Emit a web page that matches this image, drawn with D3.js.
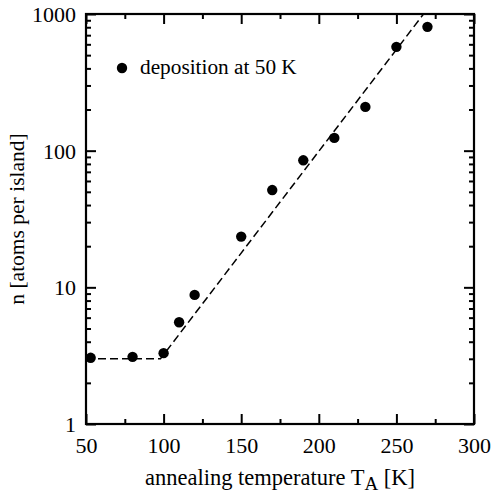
<!DOCTYPE html>
<html>
<head>
<meta charset="utf-8">
<script src="https://cdn.jsdelivr.net/npm/d3@7/dist/d3.min.js"></script>
<style>
  html, body { margin: 0; padding: 0; background: #fff; }
  svg text { font-family: "Liberation Serif", "Times New Roman", Times, "DejaVu Serif", serif !important; }
</style>
</head>
<body>
<svg id="chart" width="492" height="493"></svg>
<script>
// Island size after annealing, deposition at 50 K
const annealT = [53, 80, 100, 110, 120, 150, 170, 190, 210, 230, 250, 270];
const atomsPerIsland = [3.05, 3.1, 3.3, 5.55, 8.8, 23.5, 51.5, 85, 124, 209, 575, 805];

// Guide line: plateau, then exponential growth
const fitT = [50, 98, 267.5];
const fitN = [3, 3, 1000];

const xMajorTicks = [50, 100, 150, 200, 250, 300];
const xMinorTicks = [75, 125, 175, 225, 275];
const yMajorTicks = [1, 10, 100, 1000];
const yMinorTicks = [2, 3, 4, 5, 6, 7, 8, 9, 20, 30, 40, 50, 60, 70, 80, 90, 200, 300, 400, 500, 600, 700, 800, 900];

const legendLabel = "deposition at 50 K";

const W = 492, H = 493;
const margin = { top: 14, right: 18, bottom: 69, left: 86 };
const x0 = margin.left, x1 = W - margin.right;
const y0 = H - margin.bottom, y1 = margin.top;

const svg = d3.select("#chart");

const x = d3.scaleLinear().domain([50, 300]).range([x0, x1]);
const y = d3.scaleLog().domain([1, 1000]).range([y0, y1]);

const fontSize = 22;
const major = 10, minor = 5;
const serif = "'Liberation Serif', 'Times New Roman', 'DejaVu Serif', serif";

svg.append("defs").append("clipPath").attr("id", "plot-clip")
  .append("rect").attr("x", x0).attr("y", y1).attr("width", x1 - x0).attr("height", y0 - y1);

// Tick marks on all four sides, pointing inward
function tickAxis(gen, transform, values, size, labels) {
  const g = svg.append("g").attr("transform", transform)
    .call(gen.tickValues(values).tickSize(-size).tickSizeOuter(0)
      .tickFormat(labels ? d3.format("d") : () => ""));
  g.attr("font-family", serif).attr("font-size", fontSize);
  g.select(".domain").remove();
  g.selectAll(".tick line").attr("stroke", "#000").attr("stroke-width", 2);
  g.selectAll(".tick text").attr("fill", "#000").attr("font-size", fontSize)
    .style("font-family", serif);
  return g;
}

const gx = tickAxis(d3.axisBottom(x), `translate(0,${y0})`, xMajorTicks, major, true);
gx.selectAll(".tick text").attr("y", 29).attr("dy", null);
tickAxis(d3.axisBottom(x), `translate(0,${y0})`, xMinorTicks, minor, false);
tickAxis(d3.axisTop(x), `translate(0,${y1})`, xMajorTicks, major, false);
tickAxis(d3.axisTop(x), `translate(0,${y1})`, xMinorTicks, minor, false);

const gy = tickAxis(d3.axisLeft(y), `translate(${x0},0)`, yMajorTicks, major, true);
gy.selectAll(".tick text").attr("x", -10).attr("dy", "0.34em");
tickAxis(d3.axisLeft(y), `translate(${x0},0)`, yMinorTicks, minor, false);
tickAxis(d3.axisRight(y), `translate(${x1},0)`, yMajorTicks, major, false);
tickAxis(d3.axisRight(y), `translate(${x1},0)`, yMinorTicks, minor, false);

// Frame
svg.append("rect")
  .attr("x", x0).attr("y", y1).attr("width", x1 - x0).attr("height", y0 - y1)
  .attr("fill", "none").attr("stroke", "#000").attr("stroke-width", 2.2);

// Dashed guide line
const fitLine = d3.line().x((d, i) => x(fitT[i])).y((d, i) => y(fitN[i]));
svg.append("path")
  .attr("clip-path", "url(#plot-clip)")
  .attr("d", fitLine(fitT))
  .attr("fill", "none").attr("stroke", "#000").attr("stroke-width", 1.5)
  .attr("stroke-dasharray", "8,4");

// Data points
svg.append("g").selectAll("circle")
  .data(annealT)
  .join("circle")
  .attr("cx", d => x(d))
  .attr("cy", (d, i) => y(atomsPerIsland[i]))
  .attr("r", 5.2)
  .attr("fill", "#000");

// Legend
const legend = svg.append("g").attr("transform", `translate(${x0 + 36},${y1 + 54})`);
legend.append("circle").attr("cx", 0).attr("cy", 0).attr("r", 5.2).attr("fill", "#000");
legend.append("text").attr("x", 18).attr("y", 6)
  .style("font-family", serif)
  .attr("font-size", 21.3).attr("fill", "#000").text(legendLabel);

// Axis titles
const xt = svg.append("text")
  .attr("x", (x0 + x1) / 2).attr("y", 485)
  .style("font-family", serif)
  .attr("text-anchor", "middle").attr("font-size", 22.5).attr("fill", "#000");
xt.append("tspan").text("annealing temperature T");
xt.append("tspan").attr("font-size", 19).attr("dy", 5).text("A");
xt.append("tspan").attr("dy", -5).text(" [K]");

svg.append("text")
  .attr("transform", `translate(24,${(y0 + y1) / 2}) rotate(-90)`)
  .style("font-family", serif)
  .attr("text-anchor", "middle").attr("font-size", 21.5).attr("fill", "#000")
  .text("n [atoms per island]");
</script>
</body>
</html>
